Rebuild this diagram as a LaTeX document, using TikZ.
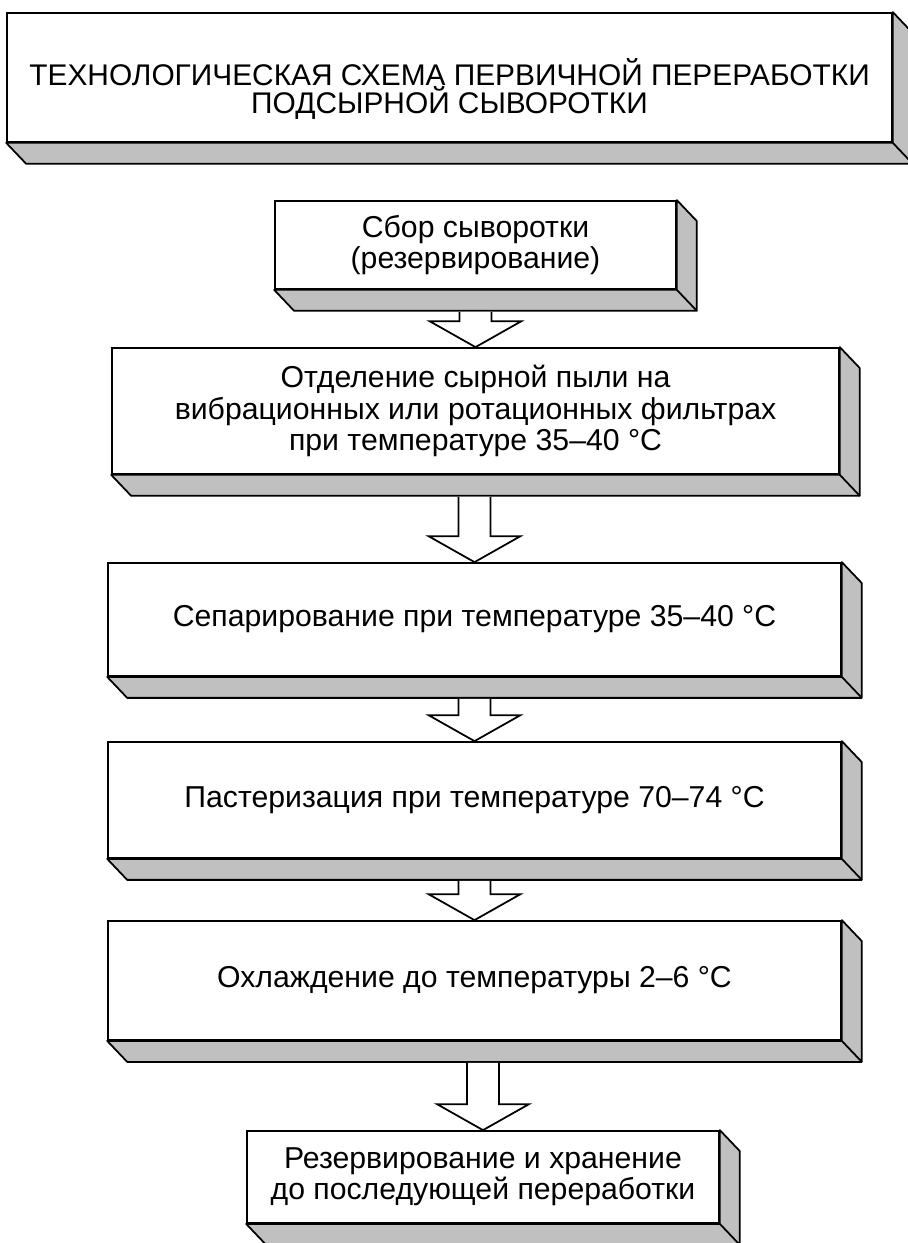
\documentclass[tikz,border=0pt]{standalone}
\usepackage{fontspec}
\setmainfont{Liberation Sans}
\usepackage{tikz}
\usetikzlibrary{calc}
\definecolor{facegray}{RGB}{192,192,192}

\newcommand{\stagefont}{\fontsize{17.2}{17.8}\selectfont}
\newcommand{\titlefont}{\fontsize{17}{16}\selectfont}

% grey side and bottom faces of a stage
\newcommand{\slabfaces}[1]{%
  \filldraw[fill=facegray,line width=1pt,line join=round]
    (#1.south west) -- ($(#1.south west)+(20,21)$) -- ($(#1.south east)+(20,21)$)
    -- ($(#1.north east)+(20,21)$) -- (#1.north east) -- (#1.south east) -- cycle;
  \draw[line width=1pt] (#1.south east) -- ($(#1.south east)+(20,21)$);}

% hollow block arrow between two stages
\newcommand{\flow}[2]{%
  \filldraw[fill=white,line width=1pt]
    ($(#2.north |- #1.south)+(-16,22)$) -- ($(#2.north)+(-16,-26)$) -- ($(#2.north)+(-46,-26)$)
    -- (#2.north) -- ($(#2.north)+(46,-26)$) -- ($(#2.north)+(16,-26)$)
    -- ($(#2.north |- #1.south)+(16,22)$);}

\begin{document}
\begin{tikzpicture}[x=0.02cm,y=-0.02cm,
    stage/.style={draw,fill=white,line width=1pt,inner sep=0pt,align=center,font=\stagefont}]
  \useasboundingbox (0,0) rectangle (907,1243);

  \node[stage,minimum width=17.7cm,minimum height=2.58cm] (title) at (449.5,77.5) {};
  \node[align=center,font=\titlefont] (titletext) at (449.5,89)
    {ТЕХНОЛОГИЧЕСКАЯ СХЕМА ПЕРВИЧНОЙ ПЕРЕРАБОТКИ\\ПОДСЫРНОЙ СЫВОРОТКИ};

  \node[stage,minimum width=8.02cm,minimum height=1.76cm] (collect) at (475.5,245)
    {Сбор сыворотки\\(резервирование)};
  \node[stage,minimum width=14.54cm,minimum height=2.52cm] (filter) at (475.5,411)
    {Отделение сырной пыли на\\вибрационных или ротационных фильтрах\\при температуре 35--40 °C};
  \node[stage,minimum width=14.66cm,minimum height=2.26cm] (separate) at (474.5,619.5)
    {Сепарирование при температуре 35--40 °C};
  \node[stage,minimum width=14.66cm,minimum height=2.32cm] (pasteur) at (474.5,800)
    {Пастеризация при температуре 70--74 °C};
  \node[stage,minimum width=14.66cm,minimum height=2.38cm] (cool) at (474.5,980.5)
    {Охлаждение до температуры 2--6 °C};
  \node[stage,minimum width=9.44cm,minimum height=1.84cm] (store) at (483,1177)
    {Резервирование и хранение\\до последующей переработки};

  \foreach \s in {title,collect,filter,separate,pasteur,cool,store}
    \slabfaces{\s};

  \flow{collect}{filter}
  \flow{filter}{separate}
  \flow{separate}{pasteur}
  \flow{pasteur}{cool}
  \flow{cool}{store}
\end{tikzpicture}
\end{document}
